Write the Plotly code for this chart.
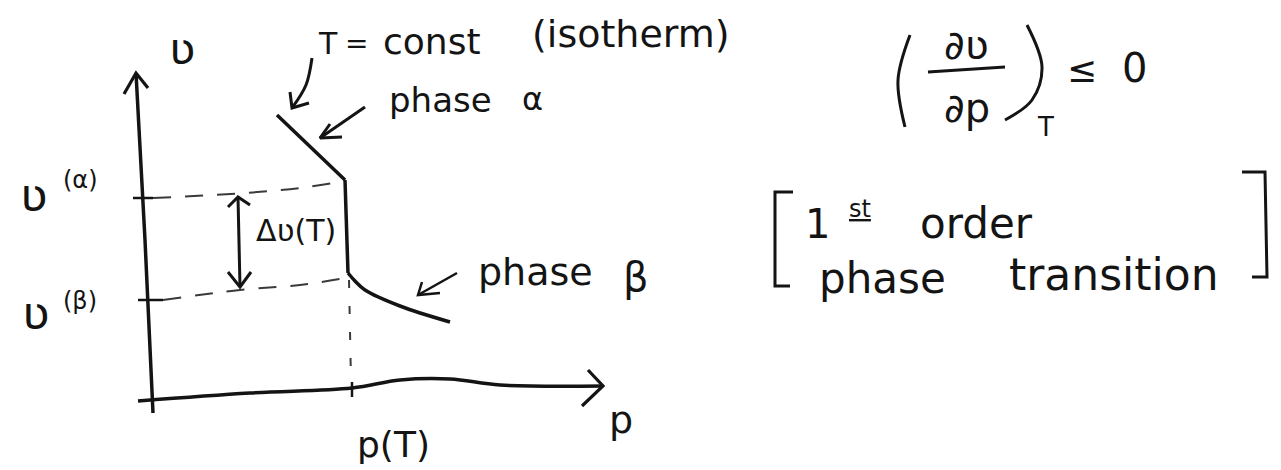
import plotly.graph_objects as go

# Sketch of an isotherm through a first-order phase transition in the (p, v) plane.
# Coordinates are in sketch units: p to the right, v upwards, origin at the axes corner.

INK = "#141414"
DASH_INK = "#3a3a3a"
FONT = "DejaVu Sans"

# axes
v_axis_p = [1, -7, -16]
v_axis_v = [-13, 160, 327]
v_head_p = [-28, -16, -4]
v_head_v = [306, 327, 312]

p_axis_p = [-14, 98, 200, 248, 298, 348, 451]
p_axis_v = [-1, 7, 12, 20, 21, 15, 14]
p_head_p = [436, 451, 430]
p_head_v = [30, 14, -6]

# ticks on the axes
tick_alpha_p = [-19, 1]
tick_alpha_v = [202, 202]
tick_beta_p = [-14, 11]
tick_beta_v = [100, 100]
tick_pT_p = [200, 200]
tick_pT_v = [18, 3]

# dashed guide lines
guide_alpha_p = [1, 93, 148, 193]
guide_alpha_v = [202, 207, 212, 219]
guide_beta_p = [11, 88, 148, 194]
guide_beta_v = [100, 110, 115, 122]
guide_pT_p = [197, 199]
guide_pT_v = [120, 18]

# isotherm: phase alpha branch, jump at p(T), phase beta branch
iso_alpha_p = [125, 193]
iso_alpha_v = [285, 220]
iso_jump_p = [193, 196]
iso_jump_v = [220, 127]
iso_beta_p = [196, 203, 213, 248, 298]
iso_beta_v = [127, 119, 110, 94, 78]

# double arrow for the volume jump
dv_shaft_p = [86, 88]
dv_shaft_v = [203, 113]
dv_top_p = [76, 86, 98]
dv_top_v = [193, 203, 195]
dv_bot_p = [76, 88, 99]
dv_bot_v = [128, 113, 128]

# pointer arrows to the curve
ptr_T_p = [160, 154, 140]
ptr_T_v = [342, 315, 292]
ptr_T_head_p = [138, 140, 157]
ptr_T_head_v = [308, 292, 297]
ptr_a_p = [213, 168]
ptr_a_v = [293, 262]
ptr_a_head_p = [178, 168, 190]
ptr_a_head_v = [276, 262, 263]
ptr_b_p = [305, 266]
ptr_b_v = [127, 105]
ptr_b_head_p = [270, 266, 288]
ptr_b_head_v = [118, 105, 107]

# derivative formula decorations
paren_l_p = [758, 746, 753]
paren_l_v = [365, 320, 273]
paren_r_p = [875, 890, 880, 853]
paren_r_v = [375, 333, 300, 280]
frac_bar_p = [776, 853]
frac_bar_v = [328, 333]

# brackets around the classification note
brk_l_p = [641, 623, 623, 638]
brk_l_v = [208, 208, 114, 114]
brk_r_p = [1090, 1113, 1115, 1100]
brk_r_v = [228, 228, 123, 123]

# text labels: (text, p, v, size)
labels = [
    ("ʋ", 30, 352, 44),
    ("T", 176, 357, 30),
    ("=", 204, 357, 28),
    ("const", 280, 359, 36),
    ("(isotherm)", 479, 366, 38),
    ("phase", 288, 300, 34),
    ("α", 380, 301, 32),
    ("ʋ", -118, 205, 46),
    ("(α)", -72, 220, 24),
    ("ʋ", -116, 87, 46),
    ("(β)", -72, 99, 24),
    ("Δʋ(T)", 144, 170, 30),
    ("phase", 383, 128, 38),
    ("β", 484, 123, 40),
    ("p(T)", 241, -44, 36),
    ("p", 469, -20, 38),
    ("∂ʋ", 814, 355, 40),
    ("∂p", 815, 292, 40),
    ("T", 893, 273, 26),
    ("≤", 930, 331, 36),
    ("0", 982, 332, 40),
    ("1", 665, 176, 40),
    ("<u>st</u>", 708, 191, 24),
    ("order", 824, 177, 42),
    ("phase", 730, 122, 42),
    ("transition", 962, 126, 44),
]

fig = go.Figure()


def stroke(px, py, width=3.5, color=INK, dash=None, shape="linear"):
    fig.add_trace(go.Scatter(
        x=px, y=py, mode="lines",
        line=dict(color=color, width=width, dash=dash, shape=shape),
        hoverinfo="skip", showlegend=False,
    ))


# axes and ticks
stroke(v_axis_p, v_axis_v, 3.5, shape="spline")
stroke(v_head_p, v_head_v, 3.2)
stroke(p_axis_p, p_axis_v, 3.5, shape="spline")
stroke(p_head_p, p_head_v, 3.2)
stroke(tick_alpha_p, tick_alpha_v, 2.5)
stroke(tick_beta_p, tick_beta_v, 2.5)
stroke(tick_pT_p, tick_pT_v, 2.5)

# dashed guides
stroke(guide_alpha_p, guide_alpha_v, 2, DASH_INK, "18px,14px", "spline")
stroke(guide_beta_p, guide_beta_v, 2, DASH_INK, "18px,14px", "spline")
stroke(guide_pT_p, guide_pT_v, 2, DASH_INK, "8px,18px")

# isotherm
stroke(iso_alpha_p, iso_alpha_v, 3.5)
stroke(iso_jump_p, iso_jump_v, 3.5)
stroke(iso_beta_p, iso_beta_v, 3.5, shape="spline")

# volume jump arrow
stroke(dv_shaft_p, dv_shaft_v, 3)
stroke(dv_top_p, dv_top_v, 3)
stroke(dv_bot_p, dv_bot_v, 3)

# pointer arrows
stroke(ptr_T_p, ptr_T_v, 3, shape="spline")
stroke(ptr_T_head_p, ptr_T_head_v, 3)
stroke(ptr_a_p, ptr_a_v, 3)
stroke(ptr_a_head_p, ptr_a_head_v, 3)
stroke(ptr_b_p, ptr_b_v, 2.5)
stroke(ptr_b_head_p, ptr_b_head_v, 2.5)

# formula and bracket strokes
stroke(paren_l_p, paren_l_v, 3, shape="spline")
stroke(paren_r_p, paren_r_v, 3, shape="spline")
stroke(frac_bar_p, frac_bar_v, 3)
stroke(brk_l_p, brk_l_v, 3)
stroke(brk_r_p, brk_r_v, 3)

for text, px, py, size in labels:
    fig.add_annotation(
        x=px, y=py, text=text, showarrow=False,
        xanchor="center", yanchor="middle",
        font=dict(family=FONT, size=size, color=INK),
    )

fig.update_layout(
    width=1281, height=470,
    margin=dict(l=0, r=0, t=0, b=0),
    paper_bgcolor="white", plot_bgcolor="white",
    xaxis=dict(range=[-152, 1129], visible=False, fixedrange=True),
    yaxis=dict(range=[-70, 400], visible=False, fixedrange=True),
    showlegend=False, hovermode=False,
)

fig.write_html("out.html", config={"displayModeBar": False, "staticPlot": True})
